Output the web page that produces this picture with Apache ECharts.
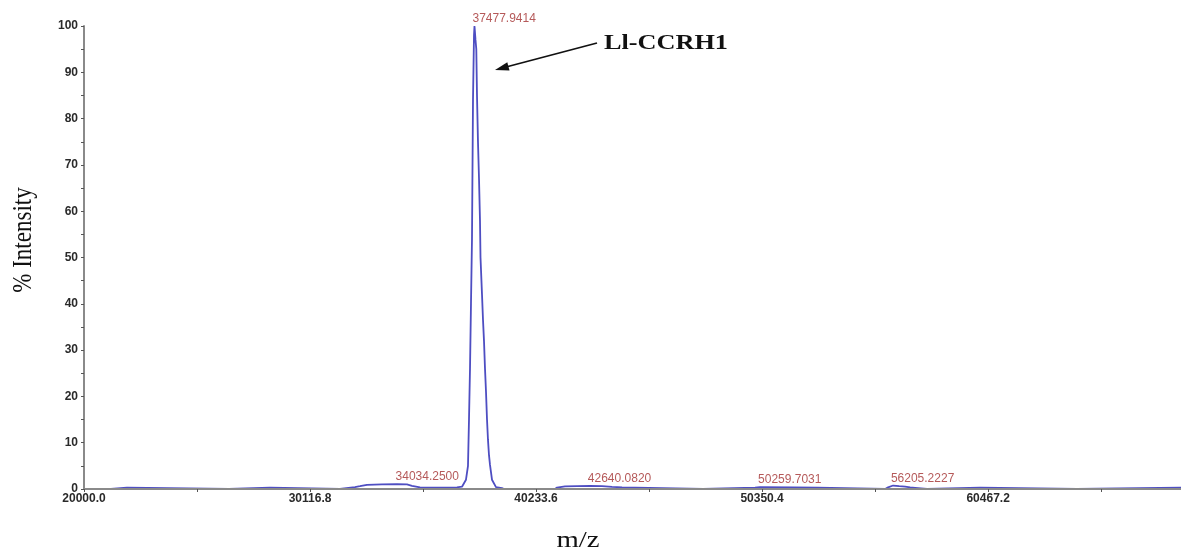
<!DOCTYPE html>
<html>
<head>
<meta charset="utf-8">
<script src="https://cdn.jsdelivr.net/npm/echarts@6/dist/echarts.min.js"></script>
<style>
  html, body { margin: 0; padding: 0; background: #ffffff; }
  #chart { width: 1181px; height: 549px; }
</style>
</head>
<body>
<div id="chart"></div>
<script>
// ---- data ----
var mz = [
  20000, 21204, 21249, 21921, 21966, 26487, 26532, 28323, 28368,
  31456, 31501, 32128, 32352, 32665, 33337, 34008, 34456, 34680, 35038, 35351, 36023, 36471,
  36694, 36918, 37097, 37187, 37232, 37277, 37321, 37366, 37411, 37456, 37478,
  37523, 37559, 37590, 37634, 37680, 37724, 37747, 37814, 37859, 37903, 37948, 37993,
  38038, 38082, 38127, 38172, 38261, 38440, 38709, 38799,
  41082, 41172, 41530, 42067, 42649, 43186, 43634, 44082, 44664, 44709,
  47708, 47753, 50036, 50260, 51693, 52812, 52857,
  55856, 55990, 56214, 56483, 56751, 56975, 57199, 57244,
  57736, 57781, 60109, 60154, 64452, 64497, 69100
];
var intensity = [
  0, 0, 0.3, 0.3, 0, 0, 0.3, 0.3, 0,
  0, 0.3, 0.4, 0.6, 0.9, 1.0, 1.05, 1.0, 0.7, 0.35, 0.3, 0.3, 0.3,
  0.35, 0.5, 2, 5, 15, 26, 40, 54, 84, 98, 100,
  97, 95, 85, 75, 67, 58, 50, 42, 36.5, 32, 26, 21,
  15, 10.6, 7.3, 5.2, 2, 0.4, 0.2, 0,
  0, 0.3, 0.55, 0.6, 0.65, 0.6, 0.45, 0.35, 0.3, 0,
  0, 0.3, 0.3, 0.4, 0.35, 0.3, 0,
  0, 0.35, 0.75, 0.6, 0.5, 0.35, 0.25, 0,
  0, 0.3, 0.3, 0, 0, 0.3, 0.3
];
var peakMz = [37477.9414, 34034.2500, 42640.0820, 50259.7031, 56205.2227];
var peakInt = [100, 1.05, 0.65, 0.4, 0.75];
var xTickValues = [20000, 25058.4, 30116.8, 35175.2, 40233.6, 45292, 50350.4, 55408.8, 60467.2, 65525.6];
var xLabelValues = [20000, 30116.8, 40233.6, 50350.4, 60467.2];
var yAxisTitle = '% Intensity';
var xAxisTitle = 'm/z';
var annotationText = 'Ll-CCRH1';

var spectrum = mz.map(function (m, i) { return [m, intensity[i]]; });
var peaks = peakMz.map(function (m, i) { return [m, peakInt[i]]; });

var chart = echarts.init(document.getElementById('chart'), null, { renderer: 'canvas' });
var axisGray = '#8a8a8a';
var option = {
  animation: false,
  backgroundColor: '#ffffff',
  grid: { left: 84, right: 0, top: 26, bottom: 60, containLabel: false },
  xAxis: {
    type: 'value', min: 20000, max: 69100, z: 3,
    axisLine: { show: true, onZero: false, lineStyle: { color: axisGray, width: 2 } },
    axisTick: { show: true, customValues: xTickValues, length: 3, lineStyle: { color: '#555', width: 1 } },
    axisLabel: {
      show: true, customValues: xLabelValues, margin: 4,
      color: '#2a2a2a', fontWeight: 'bold', fontSize: 12, fontFamily: 'Liberation Sans, Arial',
      formatter: function (v) { return Number(v).toFixed(1); }
    },
    splitLine: { show: false }
  },
  yAxis: {
    type: 'value', min: 0, max: 100, interval: 5, z: 3,
    axisLine: { show: true, lineStyle: { color: axisGray, width: 2 } },
    axisTick: { show: true, length: 3, lineStyle: { color: '#555', width: 1 } },
    axisLabel: {
      margin: 6, color: '#2a2a2a', fontWeight: 'bold', fontSize: 12, fontFamily: 'Liberation Sans, Arial',
      formatter: function (v) { return v % 10 === 0 ? String(v) : ''; }
    },
    splitLine: { show: false }
  },
  series: [
    {
      type: 'line', data: spectrum, showSymbol: false, symbol: 'none', z: 2,
      lineStyle: { color: '#4e4ec2', width: 1.8 }
    },
    {
      type: 'scatter', data: peaks, symbolSize: 0, z: 4, silent: true,
      label: {
        show: true, position: 'top', align: 'left', distance: 1, offset: [-2, 0],
        color: '#a32f2f', fontSize: 12, fontFamily: 'Liberation Sans, Arial',
        formatter: function (p) { return p.value[0].toFixed(4); }
      }
    }
  ],
  graphic: [
    {
      type: 'text', x: 24, y: 240, rotation: Math.PI / 2, scaleY: 1.2,
      style: { text: yAxisTitle, font: '23px "Liberation Serif", "Times New Roman", serif', fill: '#111',
               textAlign: 'center', textVerticalAlign: 'middle' }
    },
    {
      type: 'text', x: 578, y: 541, scaleX: 1.25,
      style: { text: xAxisTitle, font: '23px "Liberation Serif", "Times New Roman", serif', fill: '#111',
               textAlign: 'center', textVerticalAlign: 'middle' }
    },
    {
      type: 'text', x: 666, y: 44, scaleX: 1.25,
      style: { text: annotationText, font: 'bold 21px "Liberation Serif", "Times New Roman", serif', fill: '#111',
               textAlign: 'center', textVerticalAlign: 'middle' }
    },
    {
      type: 'line', shape: { x1: 597, y1: 43, x2: 506, y2: 67 },
      style: { stroke: '#111', lineWidth: 1.8 }
    },
    {
      type: 'polygon', shape: { points: [[495, 70], [509.5, 70.6], [507.3, 62.2]] },
      style: { fill: '#111' }
    }
  ]
};
chart.setOption(option);
</script>
</body>
</html>
